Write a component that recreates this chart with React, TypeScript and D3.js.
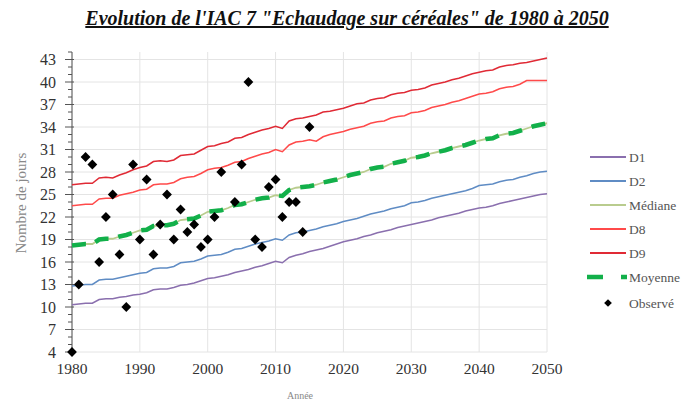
import * as d3 from "d3";

const years = d3.range(1980, 2051);

const d1 = [
  10.3, 10.4, 10.5, 10.5, 11.0, 11.1, 11.1, 11.3, 11.4, 11.6,
  11.7, 11.9, 12.3, 12.4, 12.4, 12.6, 12.9, 13.0, 13.2, 13.5,
  13.8, 13.9, 14.1, 14.3, 14.6, 14.8, 15.0, 15.3, 15.5, 15.8,
  16.1, 15.9, 16.6, 16.9, 17.1, 17.4, 17.6, 17.8, 18.1, 18.4,
  18.7, 18.9, 19.1, 19.4, 19.6, 19.9, 20.1, 20.3, 20.6, 20.8,
  21.0, 21.2, 21.4, 21.6, 21.9, 22.1, 22.3, 22.5, 22.8, 23.0,
  23.2, 23.3, 23.5, 23.8, 24.0, 24.2, 24.4, 24.6, 24.8, 25.0,
  25.1,
];
const d2 = [
  12.8, 12.9, 13.0, 13.0, 13.6, 13.7, 13.7, 13.9, 14.1, 14.3,
  14.5, 14.6, 15.1, 15.2, 15.2, 15.4, 15.9, 16.0, 16.1, 16.4,
  16.8, 16.9, 17.0, 17.3, 17.7, 17.8, 18.1, 18.4, 18.6, 18.8,
  19.1, 18.9, 19.6, 19.9, 20.0, 20.2, 20.4, 20.7, 20.9, 21.1,
  21.4, 21.6, 21.8, 22.1, 22.4, 22.6, 22.8, 23.1, 23.3, 23.5,
  23.9, 24.0, 24.2, 24.5, 24.7, 24.9, 25.1, 25.3, 25.5, 25.8,
  26.2, 26.3, 26.4, 26.7, 26.9, 27.0, 27.3, 27.5, 27.8, 28.0,
  28.1,
];
const mediane = [
  18.2, 18.3, 18.4, 18.4, 19.0, 19.1, 19.1, 19.4, 19.6, 19.9,
  20.2, 20.3, 20.8, 20.9, 20.9, 21.1, 21.6, 21.7, 21.8, 22.2,
  22.7, 22.8, 22.9, 23.2, 23.6, 23.7, 24.0, 24.3, 24.5, 24.6,
  24.9, 24.8, 25.6, 25.9, 26.0, 26.1, 26.3, 26.6, 26.8, 27.0,
  27.3, 27.6, 27.8, 28.0, 28.4, 28.6, 28.7, 29.1, 29.3, 29.5,
  29.9, 30.0, 30.2, 30.5, 30.7, 30.9, 31.2, 31.4, 31.6, 31.9,
  32.2, 32.4, 32.5, 32.9, 33.1, 33.2, 33.5, 33.8, 34.1, 34.3,
  34.5,
];
const d8 = [
  23.5, 23.6, 23.7, 23.7, 24.4, 24.5, 24.5, 24.9, 25.1, 25.3,
  25.6, 25.7, 26.3, 26.4, 26.4, 26.6, 27.1, 27.3, 27.4, 27.8,
  28.3, 28.5, 28.6, 28.9, 29.3, 29.4, 29.8, 30.1, 30.4, 30.6,
  31.0, 30.7, 31.6, 32.0, 32.1, 32.3, 32.1, 32.7, 33.0, 33.2,
  33.4, 33.7, 33.9, 34.1, 34.5, 34.7, 34.8, 35.2, 35.4, 35.5,
  35.9, 36.0, 36.2, 36.6, 36.8, 37.0, 37.3, 37.5, 37.8, 38.1,
  38.4, 38.5, 38.7, 39.1, 39.3, 39.4, 39.7, 40.2, 40.2, 40.2,
  40.2,
];
const d9 = [
  26.3, 26.4, 26.5, 26.5, 27.2, 27.3, 27.2, 27.6, 27.9, 28.3,
  28.6, 28.8, 29.4, 29.5, 29.4, 29.6, 30.2, 30.3, 30.4, 30.9,
  31.4, 31.5, 31.8, 32.0, 32.5, 32.6, 33.0, 33.3, 33.6, 33.8,
  34.1, 33.8, 34.8, 35.1, 35.2, 35.4, 35.6, 36.0, 36.1, 36.3,
  36.5, 36.8, 37.1, 37.2, 37.6, 37.8, 37.9, 38.3, 38.5, 38.6,
  38.9, 39.0, 39.2, 39.6, 39.8, 40.0, 40.3, 40.5, 40.8, 41.1,
  41.3, 41.5, 41.6, 42.0, 42.2, 42.3, 42.5, 42.6, 42.8, 43.0,
  43.2,
];
const moyenne = mediane;

const obsYears = [
  1980, 1981, 1982, 1983, 1984, 1985, 1986, 1987, 1988, 1989,
  1990, 1991, 1992, 1993, 1994, 1995, 1996, 1997, 1998, 1999,
  2000, 2001, 2002, 2004, 2005, 2006, 2007, 2008, 2009, 2010,
  2011, 2012, 2013, 2014, 2015,
];
const obsValues = [
  4, 13, 30, 29, 16, 22, 25, 17, 10, 29,
  19, 27, 17, 21, 25, 19, 23, 20, 21, 18,
  19, 22, 28, 24, 29, 40, 19, 18, 26, 27,
  22, 24, 24, 20, 34,
];

const yTicks = d3.range(4, 44, 3);
const xTicks = d3.range(1980, 2051, 10);

const series = [
  { name: "D1", values: d1, color: "#8a6fae", width: 1.5 },
  { name: "D2", values: d2, color: "#5f8cc4", width: 1.5 },
  { name: "Médiane", values: mediane, color: "#b9cc8e", width: 1.8 },
  { name: "D8", values: d8, color: "#ff4a4a", width: 1.5 },
  { name: "D9", values: d9, color: "#e02a35", width: 1.5 },
];

const W = 694;
const H = 401;
const left = 72;
const right = 547;
const top = 52;
const bottom = 352;
const font = "Liberation Serif, Times New Roman, serif";

export default function App() {
  const x = d3.scaleLinear([1980, 2050], [left, right]);
  const y = d3.scaleLinear([4, 44], [bottom, top]);
  const line = d3
    .line<number>()
    .x((_, i) => x(years[i]))
    .y((d) => y(d));
  const marker = d3.symbol(d3.symbolSquare, 48)() as string;

  const legendY = [157, 181, 205, 229, 253, 277, 303];

  return (
    <svg
      width={W}
      height={H}
      style={{ position: "absolute", left: 0, top: 0, fontFamily: font }}
    >
      <rect width={W} height={H} fill="#fff" />
      <text
        x={347}
        y={25}
        textAnchor="middle"
        fontSize={20}
        fontWeight="bold"
        fontStyle="italic"
        textDecoration="underline"
        fill="#111"
      >
        Evolution de l'IAC 7 "Echaudage sur céréales" de 1980 à 2050
      </text>

      {/* grid */}
      <g stroke="#e4e4e4" strokeWidth={1}>
        {yTicks.map((t) => (
          <line key={t} x1={left} x2={right} y1={y(t)} y2={y(t)} />
        ))}
        {xTicks.map((t) => (
          <line key={t} x1={x(t)} x2={x(t)} y1={top} y2={bottom} />
        ))}
      </g>

      {/* y axis */}
      <g stroke="#555" strokeWidth={1}>
        <line x1={left} x2={left} y1={top} y2={bottom} />
        {d3.range(4, 45).map((t) => (
          <line
            key={t}
            x1={(t - 4) % 3 === 0 ? left - 7 : left - 4}
            x2={(t - 4) % 3 === 0 ? left + 2 : left}
            y1={y(t)}
            y2={y(t)}
          />
        ))}
      </g>
      <g fontSize={16} fill="#333" textAnchor="end">
        {yTicks.map((t) => (
          <text key={t} x={left - 16} y={y(t) + 5.5}>
            {t}
          </text>
        ))}
      </g>
      <g fontSize={15.5} fill="#333" textAnchor="middle">
        {xTicks.map((t) => (
          <text key={t} x={x(t)} y={bottom + 22}>
            {t}
          </text>
        ))}
      </g>
      <text
        transform={`translate(26,203) rotate(-90)`}
        textAnchor="middle"
        fontSize={15}
        fill="#888"
      >
        Nombre de jours
      </text>
      <text x={300} y={399} textAnchor="middle" fontSize={10} fill="#888">
        Année
      </text>

      {/* series */}
      {series.map((s) => (
        <path
          key={s.name}
          d={line(s.values) as string}
          fill="none"
          stroke={s.color}
          strokeWidth={s.width}
        />
      ))}
      <path
        d={line(moyenne) as string}
        fill="none"
        stroke="#12b04a"
        strokeWidth={4.5}
        strokeDasharray="14 10"
      />
      <g fill="#000">
        {obsYears.map((yr, i) => (
          <path
            key={yr}
            d={marker}
            transform={`translate(${x(yr)},${y(obsValues[i])}) rotate(45)`}
          />
        ))}
      </g>

      {/* legend */}
      <g fontSize={13.5} fill="#555">
        {series.map((s, i) => (
          <g key={s.name}>
            <line
              x1={590}
              x2={626}
              y1={legendY[i]}
              y2={legendY[i]}
              stroke={s.color}
              strokeWidth={s.width + 0.3}
            />
            <text x={629} y={legendY[i] + 4.5}>
              {s.name}
            </text>
          </g>
        ))}
        <line
          x1={587}
          x2={627}
          y1={legendY[5]}
          y2={legendY[5]}
          stroke="#12b04a"
          strokeWidth={4.5}
          strokeDasharray="16 18"
        />
        <text x={629} y={legendY[5] + 4.5}>
          Moyenne
        </text>
        <path
          d={d3.symbol(d3.symbolSquare, 30)() as string}
          transform={`translate(608,${legendY[6]}) rotate(45)`}
          fill="#000"
        />
        <text x={629} y={legendY[6] + 4.5}>
          Observé
        </text>
      </g>
    </svg>
  );
}
